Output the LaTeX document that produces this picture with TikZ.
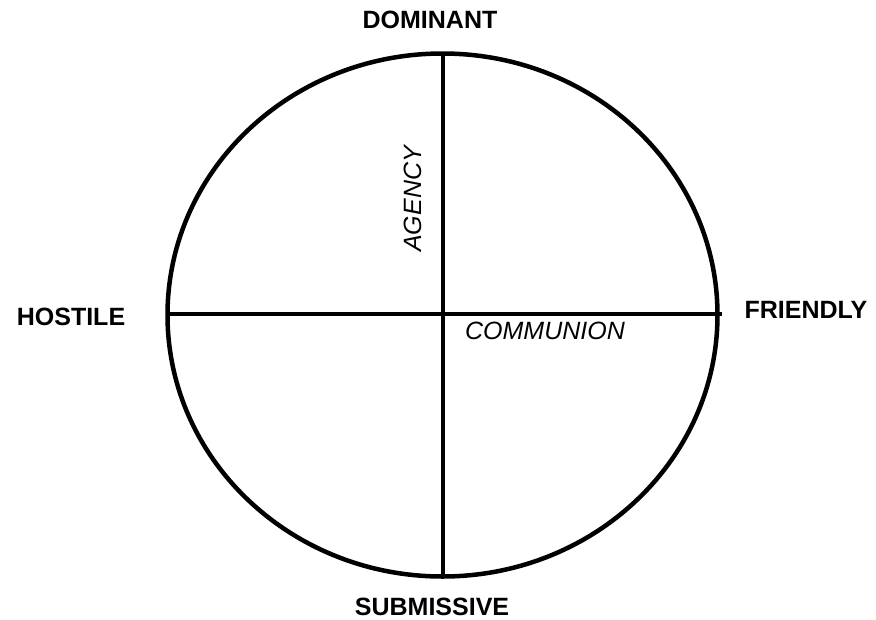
\documentclass[tikz,border=0pt]{standalone}
\usepackage{fontspec}
\setmainfont{Liberation Sans}
\begin{document}
\begin{tikzpicture}[x=1pt,y=-1pt,
  pole/.style={font=\fontsize{25}{30}\selectfont\bfseries, inner sep=0pt},
  axislabel/.style={font=\fontsize{25}{30}\selectfont\itshape, inner sep=0pt},
  rim/.style={line width=4.5pt},
  axisline/.style={line width=3.3pt}]
\useasboundingbox (0,0) rectangle (876,619);
\coordinate (c) at (442.5,315);
\coordinate (top) at (443,53);
\coordinate (bot) at (443,577);
\coordinate (left) at (167,314);
\coordinate (right) at (722,314);
\draw[rim] (c) ellipse [x radius=275, y radius=261.5];
\draw[axisline] (top) -- (bot);
\draw[axisline] (left) -- (right);
\node[pole] (dom) at (430,20) {DOMINANT};
\node[pole] (hos) at (71,317) {HOSTILE};
\node[pole] (fri) at (806,310) {FRIENDLY};
\node[pole] (sub) at (432,606.5) {SUBMISSIVE};
\node[axislabel, rotate=90] (ag) at (413,199) {AGENCY};
\node[axislabel] (com) at (545,331) {COMMUNION};
\end{tikzpicture}
\end{document}
